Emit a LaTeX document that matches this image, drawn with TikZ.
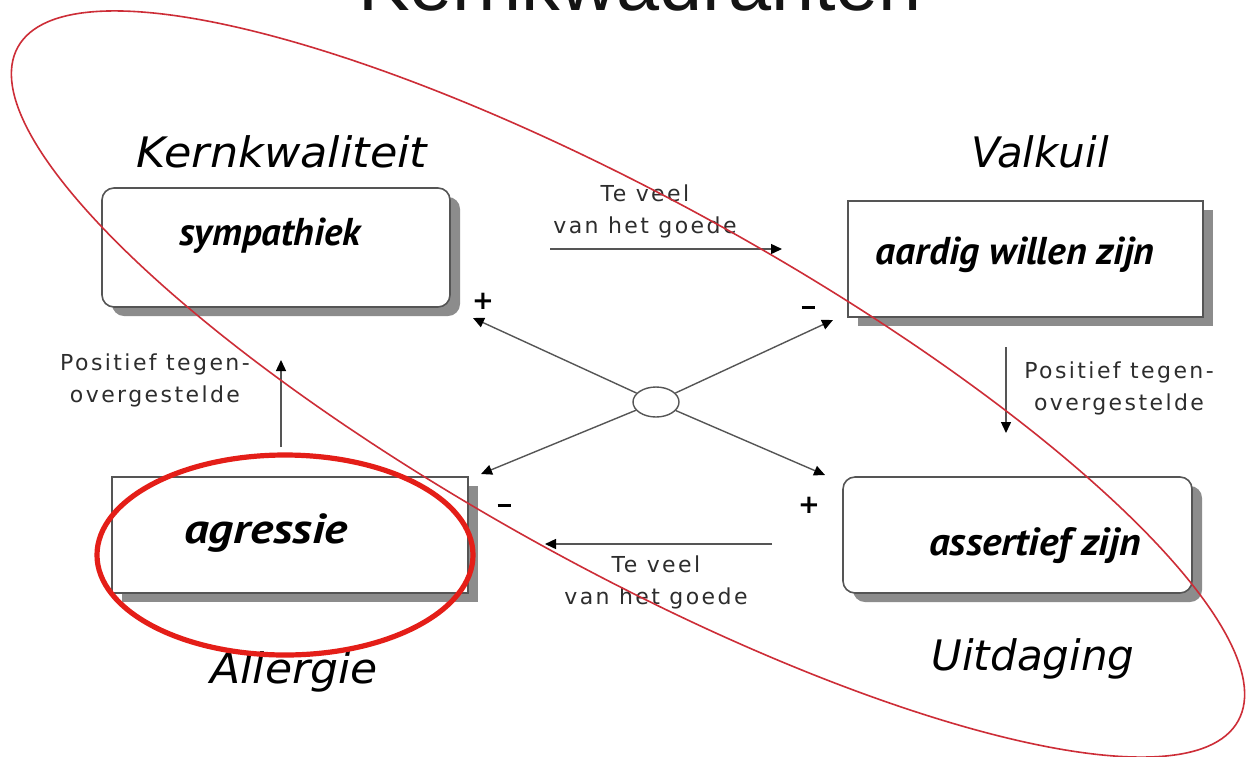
\documentclass[tikz,border=0pt]{standalone}
\usepackage{fontspec}
\setmainfont{DejaVu Sans}
\newfontfamily\titlefont{Liberation Sans}
\newfontfamily\boxfont{PT Sans}
\newfontfamily\notefont[LetterSpace=11]{DejaVu Sans}
\usetikzlibrary{arrows.meta,shapes.geometric,shadows}
\definecolor{ink}{RGB}{85,85,85}
\definecolor{notegray}{RGB}{45,45,45}
\definecolor{shade}{RGB}{140,140,140}
\definecolor{markred}{RGB}{228,30,24}
\definecolor{thinred}{RGB}{205,45,55}
% bold italic box text at a given size, stretched sideways by a given factor
\newcommand{\boxtext}[3]{\scalebox{#2}[1]{\fontsize{#1}{#1}\selectfont #3}}
% short heavy minus sign
\newcommand{\heavyminus}{\rule[2.5pt]{6.5pt}{1.7pt}}

\begin{document}
\begin{tikzpicture}[x=0.5pt,y=-0.5pt,
  quad/.style={draw=ink, line width=0.8pt, fill=white, inner sep=0pt,
    drop shadow={shadow xshift=5pt, shadow yshift=-4.5pt, fill=shade, opacity=1}},
  roundquad/.style={quad, rounded corners=6pt},
  boxlabel/.style={anchor=base, inner sep=0pt, font=\boxfont\bfseries\itshape},
  heading/.style={anchor=base, font=\itshape\fontsize{21}{24}\selectfont},
  note/.style={align=center, font=\notefont\fontsize{11}{16}\selectfont, text=notegray, inner sep=0pt},
  sign/.style={font=\bfseries\fontsize{13}{13}\selectfont, inner sep=0pt},
  link/.style={draw=ink, line width=0.7pt, -{Triangle[length=5.5pt,width=5pt,color=black]}},
]
\clip (0,0) rectangle (1246,756);
\fill[white] (0,0) rectangle (1246,756);

% title, cut off by the top edge
\node[anchor=base, text={rgb,255:red,20;green,20;blue,20},
      font=\titlefont\fontsize{38.7}{40}\selectfont] (title) at (640,10) {Kernkwadranten};

% the four quadrant boxes
\node[roundquad, minimum width=174pt, minimum height=59.5pt] (kern) at (276,247.5) {};
\node[quad, minimum width=177.5pt, minimum height=58pt] (valk) at (1025.5,259) {};
\node[quad, minimum width=178pt, minimum height=58pt] (aller) at (290,535) {};
\node[roundquad, minimum width=174.5pt, minimum height=58pt] (uitd) at (1017.5,535) {};

\node[boxlabel] (kernt) at (270,245) {\boxtext{19.4}{1}{sympathiek}};
\node[boxlabel] (valkt) at (1015,264) {\boxtext{19.4}{1.02}{aardig willen zijn}};
\node[boxlabel] (allert) at (266,543) {\boxtext{21}{1.17}{agressie}};
\node[boxlabel] (uitdt) at (1035,555) {\boxtext{19.6}{1.05}{assertief zijn}};

% headings
\node[heading] (h1) at (282,167) {\scalebox{1.06}[1]{Kernkwaliteit}};
\node[heading] (h2) at (1040,167) {Valkuil};
\node[heading] (h3) at (294,683) {\scalebox{1.05}[1]{Allergie}};
\node[heading] (h4) at (1033,670) {Uitdaging};

% notes along the arrows
\node[note] (n1) at (645,211) {Te veel\\van het goede};
\node[note] (n2) at (656,582) {Te veel\\van het goede};
\node[note] (n3) at (155,380) {Positief tegen-\\overgestelde};
\node[note] (n4) at (1119,388) {Positief tegen-\\overgestelde};

% straight arrows
\coordinate (a1s) at (550,249);  \coordinate (a1e) at (782,249);
\coordinate (a2s) at (772,544);  \coordinate (a2e) at (545,544);
\coordinate (a3s) at (1006,347); \coordinate (a3e) at (1006,433);
\coordinate (a4s) at (281,447);  \coordinate (a4e) at (281,360);
\draw[link] (a1s) -- (a1e);
\draw[link] (a2s) -- (a2e);
\draw[link] (a3s) -- (a3e);
\draw[link] (a4s) -- (a4e);

% central crossing
\node[draw=ink, ellipse, line width=0.7pt, minimum width=23pt, minimum height=15pt, inner sep=0pt] (hub) at (656,402) {};
\coordinate (dul) at (473,318);
\coordinate (dur) at (833,320);
\coordinate (dll) at (481,474);
\coordinate (dlr) at (825,475);
\draw[link] (hub) -- (dul);
\draw[link] (hub) -- (dur);
\draw[link] (hub) -- (dll);
\draw[link] (hub) -- (dlr);

% signs
\node[sign] (s1) at (483,301) {+};
\node[sign] (s2) at (808,310) {\heavyminus};
\node[sign] (s3) at (504,508) {\heavyminus};
\node[sign] (s4) at (809,505) {+};

% red markings
\draw[thinred, line width=0.8pt, rotate around={-28.9:(628,384)}]
  (628,384) ellipse [x radius=348.5pt, y radius=91.5pt];
\draw[markred, line width=2.6pt] (285,555) ellipse [x radius=94pt, y radius=50pt];
\end{tikzpicture}
\end{document}
